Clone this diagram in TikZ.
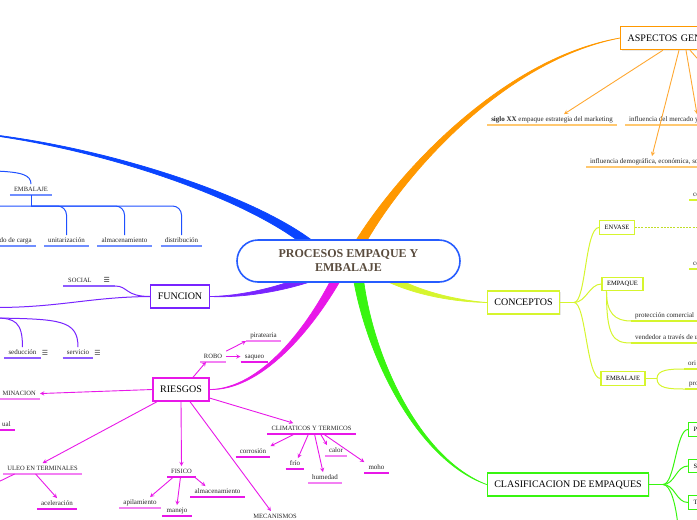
\documentclass[tikz,border=0pt]{standalone}
\usepackage{fontspec}
\setmainfont{Liberation Serif}
\newfontfamily\iconfont{DejaVu Sans}
\usepackage{xcolor}
\usepackage{tikz}
\usetikzlibrary{shapes,arrows,positioning,calc,backgrounds,shadows}
\definecolor{rootblue}{RGB}{38,92,255}
\definecolor{roottext}{RGB}{90,76,62}
\definecolor{branchblue}{RGB}{10,68,255}
\definecolor{blueline}{RGB}{30,80,255}
\definecolor{bluelight}{RGB}{112,142,255}
\definecolor{violetline}{RGB}{120,36,255}
\definecolor{violetlight}{RGB}{142,92,255}
\definecolor{riskline}{RGB}{232,24,232}
\definecolor{risklight}{RGB}{243,128,243}
\definecolor{aspectorange}{RGB}{255,152,0}
\definecolor{aspectline}{RGB}{255,168,50}
\definecolor{aspectlight}{RGB}{255,200,112}
\definecolor{conceptlime}{RGB}{214,245,46}
\definecolor{classgreen}{RGB}{56,245,16}

% tapered main branch: colour, thick end, two controls, thin end, half width
\newcommand{\taperbranch}[6]{%
    \filldraw[#1, line width=0.7pt, line join=round]
        ($#2!#6!90:#3$) .. controls ($#3!0.6*#6!90:#4$) and ($#4!0.25*#6!90:#5$) .. #5
        .. controls ($#4!0.25*#6!-90:#5$) and ($#3!0.6*#6!-90:#4$) .. ($#2!#6!-90:#3$) -- cycle;}

\tikzset{
    root/.style={draw=rootblue, line width=1.6pt, fill=white, rounded corners=21pt,
        minimum width=223pt, minimum height=42pt, align=center,
        font=\bfseries\fontsize{12}{14}\selectfont, text=roottext},
    topic/.style={draw=#1, line width=1.4pt, fill=white, minimum height=23pt,
        inner xsep=7pt, font=\fontsize{10}{12}\selectfont,
        drop shadow={opacity=0.18, shadow xshift=1pt, shadow yshift=-1pt}},
    subtopic/.style={draw=#1, line width=1.2pt, fill=white, minimum height=13.5pt,
        inner xsep=5pt, inner ysep=1pt, font=\fontsize{6.5}{7}\selectfont},
    leaf/.style={font=\fontsize{7}{8}\selectfont, text=black!85, inner xsep=4pt, inner ysep=2pt,
        text height=5pt, text depth=1.5pt,
        append after command={(\tikzlastnode.south west) edge[draw=#1, line width=1.3pt] (\tikzlastnode.south east)}},
    capleaf/.style={leaf=#1, font=\fontsize{6.5}{7}\selectfont},
    link/.style={draw=#1, line width=1pt},
    riskarrow/.style={->, draw=riskline, line width=0.9pt},
    aspectarrow/.style={->, draw=aspectline, line width=0.9pt},
    iconlbl/.style={font=\iconfont\fontsize{7}{7}\selectfont, text=black!75, inner sep=1pt},
}

\begin{document}
\begin{tikzpicture}[x=1pt, y=-1pt, >=stealth]
    \useasboundingbox (0,0) rectangle (697,520);
    \clip (0,0) rectangle (697,520);

    % Central topic
    \node[root] (root) at (348.5,261) {PROCESOS EMPAQUE Y\\EMBALAJE};

    % Main topics
    \node[topic=aspectorange, anchor=west, text width=80pt, align=left] (aspectos) at (620,38) {ASPECTOS GEN};
    \node[topic=violetline] (funcion) at (180,296.5) {FUNCION};
    \node[topic=riskline] (riesgos) at (181,389.5) {RIESGOS};
    \node[topic=conceptlime] (conceptos) at (523.5,302.5) {CONCEPTOS};
    \node[topic=classgreen] (clasif) at (568,484.5) {CLASIFICACION DE EMPAQUES};

    % Branch ends hidden under the root
    \coordinate (bluestart) at ($(root.center)+(-36.5,-15)$);
    \coordinate (orangestart) at ($(root.center)+(7.5,-11)$);
    \coordinate (magentastart) at ($(root.center)+(-8.5,11)$);
    \coordinate (violetstart) at ($(root.center)+(-33.5,15)$);
    \coordinate (limestart) at ($(root.center)+(36.5,15)$);
    \coordinate (greenstart) at ($(root.center)+(9.5,15)$);
    \coordinate (blueend) at (-60,130);

    % Thick branches
    \begin{scope}[on background layer]
        \clip (0,0) rectangle (697,520);
        \taperbranch{branchblue}{(bluestart)}{(250,195)}{(80,138)}{(blueend)}{4.5pt}
        \taperbranch{aspectorange}{(orangestart)}{(395,180)}{(500,60)}{(aspectos.west)}{5pt}
        \taperbranch{riskline}{(magentastart)}{(310,330)}{(260,390)}{(riesgos.east)}{4.5pt}
        \taperbranch{violetline}{(violetstart)}{(280,290)}{(240,297)}{(funcion.east)}{4pt}
        \taperbranch{conceptlime}{(limestart)}{(415,293)}{(455,301)}{(conceptos.west)}{4pt}
        \taperbranch{classgreen}{(greenstart)}{(370,360)}{(420,460)}{(clasif.west)}{5pt}
    \end{scope}

    % Blue: EMBALAJE
    \node[capleaf=bluelight, anchor=south] (embal) at (31,195) {EMBALAJE};
    \node[leaf=bluelight, anchor=south east] (dcarga) at (36,246) {do de carga};
    \node[leaf=bluelight, anchor=south] (unit) at (66.5,246) {unitarización};
    \node[leaf=bluelight, anchor=south] (almac) at (124.5,246) {almacenamiento};
    \node[leaf=bluelight, anchor=south] (distr) at (181.5,246) {distribución};
    \coordinate (embin) at (-5,171);
    \coordinate (embfork) at (31,206);
    \coordinate (dcargaup) at (-9,232);
    \draw[link=blueline] (embin) .. controls (22,172) and (31,175) .. (embal.north);
    \draw[link=blueline] (embal.south) -- (embfork);
    \draw[link=blueline, rounded corners=9pt] (embfork) -| (dcargaup);
    \draw[link=blueline, rounded corners=9pt] (embfork) -| (unit.north);
    \draw[link=blueline, rounded corners=9pt] (embfork) -| (almac.north);
    \draw[link=blueline, rounded corners=9pt] (embfork) -| (distr.north);

    % Violet: FUNCION
    \node[capleaf=violetlight, anchor=south west, inner xsep=5pt] (social) at (63,286)
        {SOCIAL\hspace{12pt}{\iconfont\fontsize{7}{7}\selectfont ☰}};
    \node[leaf=violetlight, anchor=south, label={[iconlbl]right:☰}] (seduc) at (22.5,358) {seducción};
    \node[leaf=violetlight, anchor=south, label={[iconlbl]right:☰}] (servic) at (78,358) {servicio};
    \coordinate (violetend) at (-5,307.5);
    \coordinate (violetin) at (-5,318);
    \draw[link=violetline] (funcion.west) .. controls (90,297) and (60,307.5) .. (violetend);
    \draw[link=violetline] (funcion.west) .. controls (125,296.5) and (128,286) .. (social.south east);
    \draw[link=violetline] (violetin) .. controls (15,318) and (22.5,322) .. (seduc.north);
    \draw[link=violetline] (violetin) .. controls (60,319) and (78,320) .. (servic.north);

    % Magenta: RIESGOS
    \node[capleaf=risklight, anchor=south] (robo) at (213,362) {ROBO};
    \node[leaf=risklight, anchor=south] (pirat) at (263.5,341) {piratearia};
    \node[leaf=riskline, anchor=south] (saqueo) at (254.5,362) {saqueo};
    \node[capleaf=risklight, anchor=south east] (contam) at (40,399) {MINACION};
    \node[leaf=riskline, anchor=south east] (ual) at (15,430) {ual};
    \node[capleaf=risklight, anchor=south east] (manip) at (82,474) {ULEO EN TERMINALES};
    \node[leaf=riskline, anchor=south] (acel) at (57,509) {aceleración};
    \node[capleaf=riskline, anchor=south] (fisico) at (181.5,477) {FISICO};
    \node[leaf=risklight, anchor=south] (apil) at (140,508) {apilamiento};
    \node[leaf=riskline, anchor=south] (manejo) at (177,516) {manejo};
    \node[leaf=riskline, anchor=south] (almac2) at (217.5,497) {almacenamiento};
    \node[capleaf=riskline, anchor=south] (clima) at (311.5,434) {CLIMATICOS Y TERMICOS};
    \node[leaf=riskline, anchor=south] (corr) at (253,457) {corrosión};
    \node[leaf=riskline, anchor=south] (frio) at (295,469) {frío};
    \node[leaf=risklight, anchor=south] (humed) at (325,483) {humedad};
    \node[leaf=risklight, anchor=south] (calor) at (336,456) {calor};
    \node[leaf=riskline, anchor=south] (moho) at (376.5,473) {moho};
    \node[capleaf=riskline, anchor=south] (mecan) at (275,522) {MECANISMOS};
    \coordinate (manipout) at (-6,484);

    \draw[riskarrow] ([xshift=12pt]riesgos.north) -- ([xshift=-7pt]robo.south);
    \draw[riskarrow] (robo.north east) -- (pirat.south west);
    \draw[riskarrow] (robo.east) -- (saqueo.west);
    \draw[riskarrow] (riesgos.west) -- (contam.east);
    \draw[riskarrow] ([xshift=-24pt]riesgos.south) -- (manip.north);
    \draw[riskarrow] ([xshift=-7pt]manip.south) -- (acel.north);
    \draw[riskarrow] ([xshift=-28pt]manip.south) -- (manipout);
    \draw[riskarrow] (riesgos.south) -- (fisico.north);
    \draw[riskarrow] ([xshift=-8pt]fisico.south) -- ([xshift=10pt]apil.north);
    \draw[riskarrow] ([xshift=-1pt]fisico.south) -- (manejo.north);
    \draw[riskarrow] ([xshift=13pt]fisico.south) -- ([xshift=-12pt]almac2.north);
    \draw[riskarrow] (riesgos) -- (clima);
    \draw[riskarrow] ([xshift=-17pt]clima.south) -- (corr.north east);
    \draw[riskarrow] ([xshift=-3pt]clima.south) -- ([xshift=3pt]frio.north);
    \draw[riskarrow] ([xshift=3pt]clima.south) -- ([xshift=-2pt]humed.north);
    \draw[riskarrow] ([xshift=9pt]clima.south) -- ([xshift=-9pt]calor.north);
    \draw[riskarrow] ([xshift=12pt]clima.south) -- (moho.north west);
    \draw[riskarrow] (riesgos) -- (mecan);

    % Orange: ASPECTOS
    \node[leaf=aspectlight, anchor=south] (siglo) at (552,125) {\textbf{siglo XX} empaque estrategia del marketing};
    \node[leaf=aspectlight, anchor=south west] (infmerc) at (625,125) {influencia del mercado y};
    \node[leaf=aspectlight, anchor=south west] (infdemo) at (586,167) {influencia demográfica, económica, so};
    \coordinate (aspectout) at (712,75);
    \draw[aspectarrow] ([xshift=43pt]aspectos.south west) -- ([xshift=12pt]siglo.north);
    \draw[aspectarrow] ([xshift=59pt]aspectos.south west) -- ([xshift=66pt]infdemo.north west);
    \draw[aspectarrow] ([xshift=66pt]aspectos.south west) -- ([xshift=72pt]infmerc.north west);
    \draw[aspectarrow] ([xshift=70pt]aspectos.south west) -- (aspectout);

    % Lime: CONCEPTOS
    \node[subtopic=conceptlime] (envase) at (617,227.5) {ENVASE};
    \node[subtopic=conceptlime] (empaque) at (622.5,284) {EMPAQUE};
    \node[subtopic=conceptlime] (embal2) at (623,378.5) {EMBALAJE};
    \node[leaf=conceptlime, anchor=south west] (protc) at (631,321) {protección comercial};
    \node[leaf=conceptlime, anchor=south west] (vend) at (631,343) {vendedor a través de u};
    \node[leaf=conceptlime, anchor=south west] (ori) at (684,369) {ori};
    \node[leaf=conceptlime, anchor=south west] (pro) at (685,389) {pro};
    \node[leaf=conceptlime, anchor=south west] (coa) at (689,200) {co};
    \node[leaf=conceptlime, anchor=south west] (cob) at (689,269) {co};
    \coordinate (cfork) at (574,302.5);
    \coordinate (efork) at (657,378.5);
    \coordinate (envaseout) at (705,227.5);
    \draw[link=conceptlime] (conceptos.east) -- (cfork);
    \draw[link=conceptlime] (cfork) .. controls +(12,0) and +(-14,0) .. (envase.west);
    \draw[link=conceptlime] (cfork) .. controls +(12,0) and +(-12,0) .. (empaque.west);
    \draw[link=conceptlime] (cfork) .. controls +(12,0) and +(-14,0) .. (embal2.west);
    \draw[conceptlime!90!black, line width=1.6pt, dash pattern=on 2pt off 1.2pt] (envase.east) -- (envaseout);
    \draw[link=conceptlime] ([xshift=5pt]empaque.south west) .. controls +(0,22) and +(-16,0) .. (protc.south west);
    \draw[link=conceptlime] ([xshift=5pt]empaque.south west) .. controls +(0,45) and +(-18,0) .. (vend.south west);
    \draw[link=conceptlime] (embal2.east) -- (efork);
    \draw[link=conceptlime] (efork) .. controls +(0,-9) and +(-14,0) .. (ori.south west);
    \draw[link=conceptlime] (efork) .. controls +(0,10) and +(-16,0) .. (pro.south west);

    % Green: CLASIFICACION
    \node[subtopic=classgreen, anchor=west, text width=20pt, align=left] (prim) at (688,429.5) {P};
    \node[subtopic=classgreen, anchor=west, text width=20pt, align=left] (secu) at (688,466) {S};
    \node[subtopic=classgreen, anchor=west, text width=20pt, align=left] (terc) at (688,502.5) {T};
    \coordinate (gfork) at (663,484.5);
    \coordinate (gout) at (678,526);
    \draw[link=classgreen] (clasif.east) -- (gfork);
    \draw[link=classgreen] (gfork) .. controls +(12,0) and +(-12,0) .. (prim.west);
    \draw[link=classgreen] (gfork) .. controls +(12,0) and +(-12,0) .. (secu.west);
    \draw[link=classgreen] (gfork) .. controls +(12,0) and +(-12,0) .. (terc.west);
    \draw[link=classgreen] (gfork) .. controls +(8,0) and +(-2,-20) .. (gout);
\end{tikzpicture}
\end{document}
